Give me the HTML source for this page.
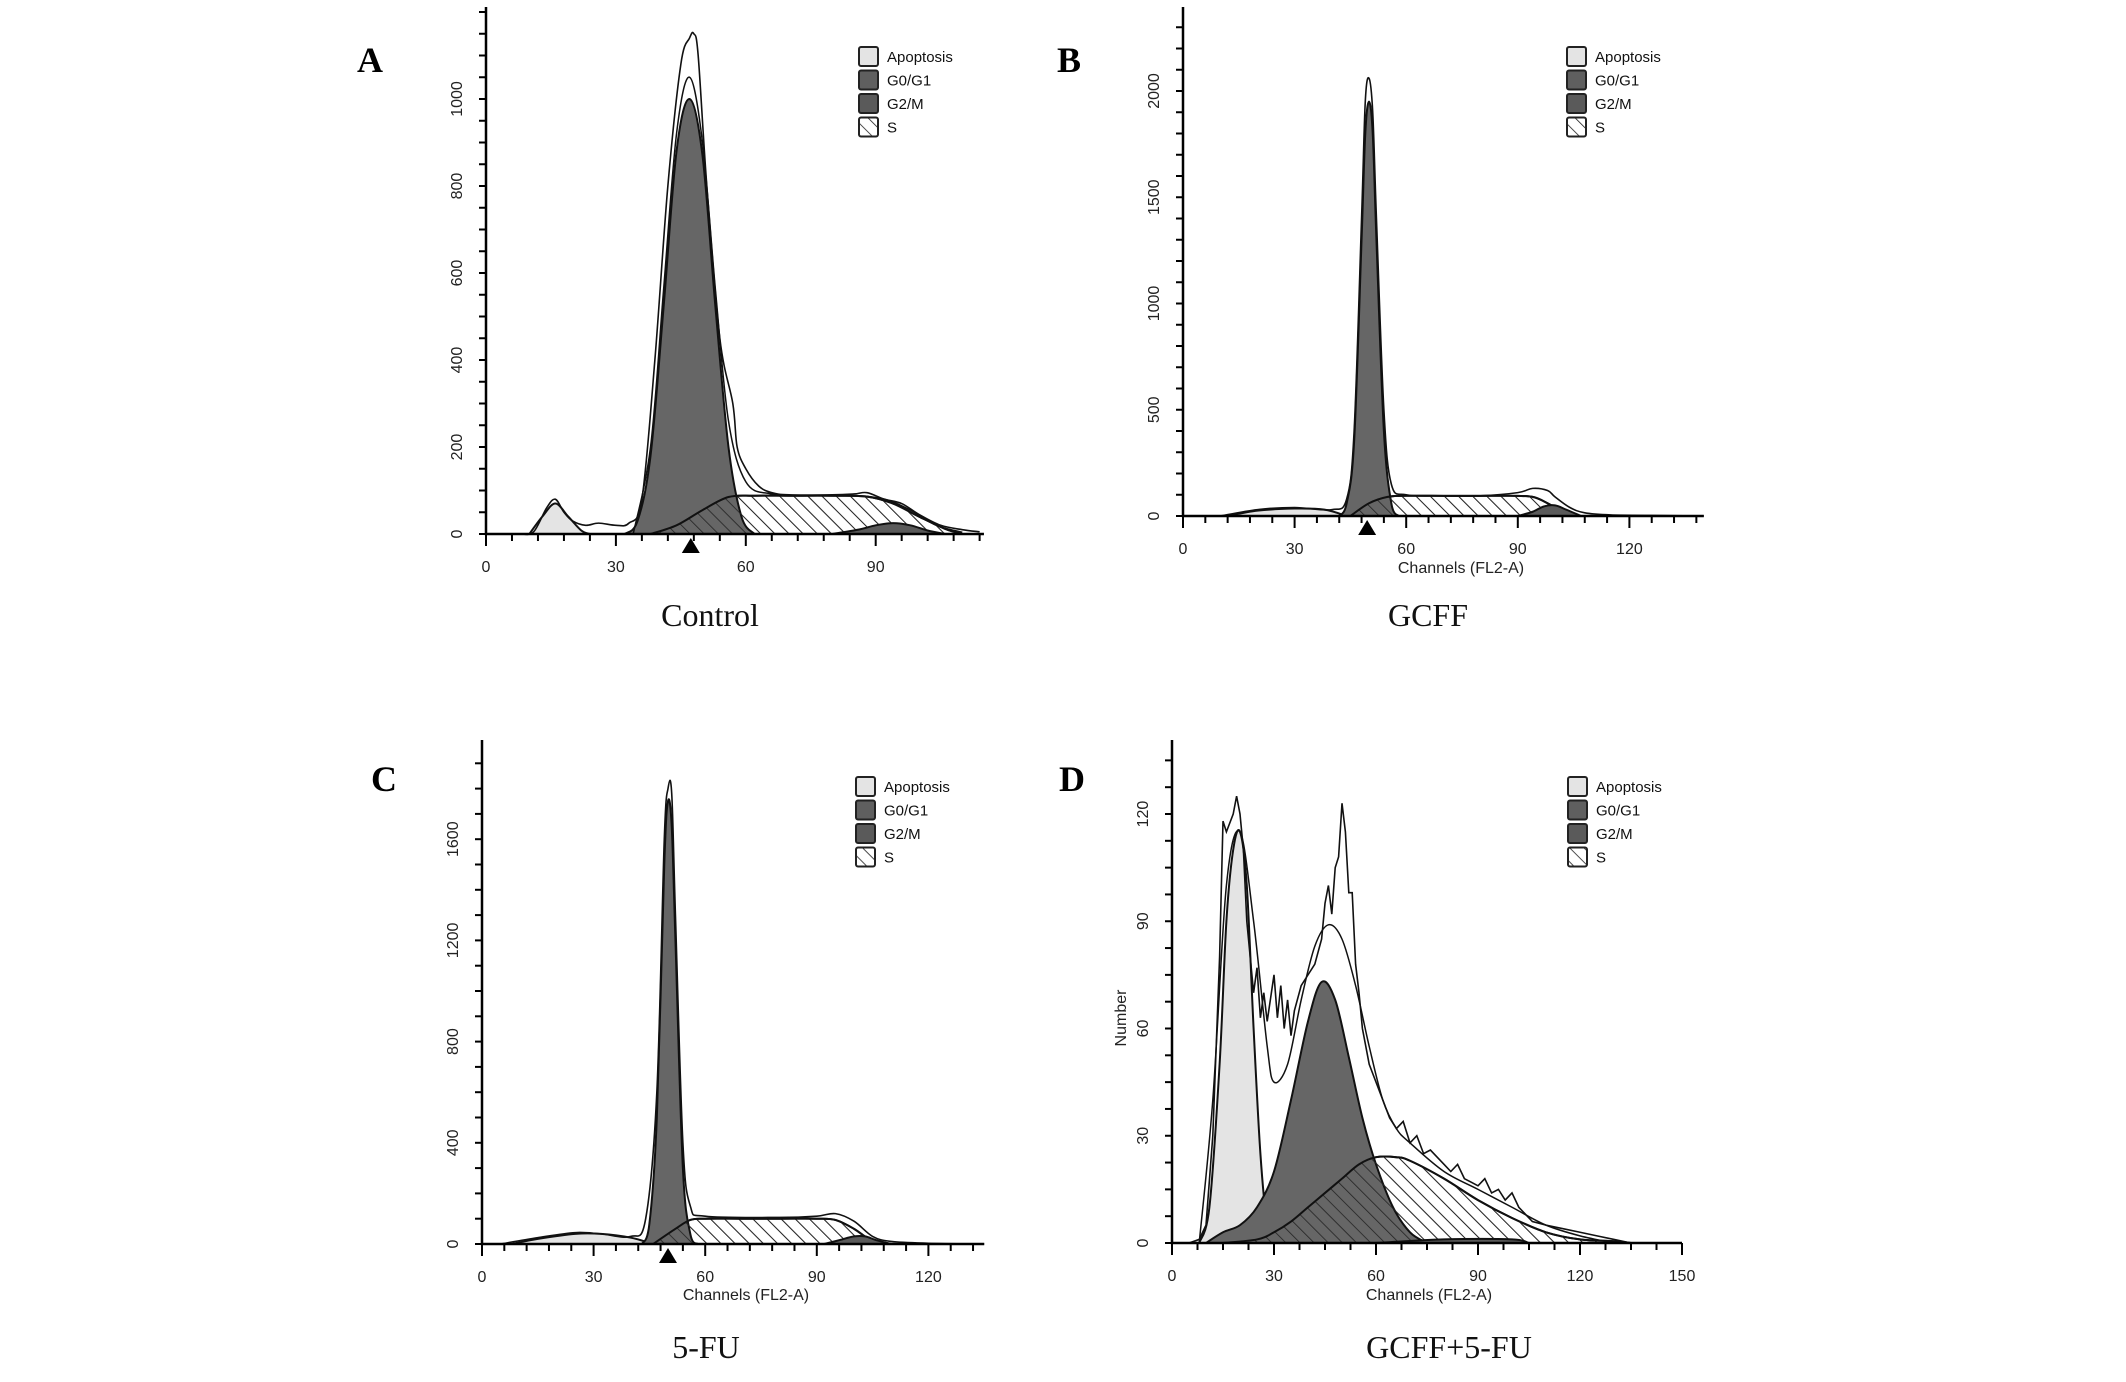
<!DOCTYPE html>
<html><head><meta charset="utf-8"><style>
html,body{margin:0;padding:0;background:#fff;}
svg{display:block;}
.tk{font-family:"Liberation Sans",sans-serif;font-size:16px;fill:#222;}
.lg{font-family:"Liberation Sans",sans-serif;font-size:15px;fill:#111;}
.cap{font-family:"Liberation Serif",serif;font-size:32px;fill:#111;}
.let{font-family:"Liberation Serif",serif;font-size:36px;font-weight:bold;fill:#000;}
</style></head><body>
<svg id="fig" width="2126" height="1382" viewBox="0 0 2126 1382" xmlns="http://www.w3.org/2000/svg">
<defs>
<pattern id="hatch" width="10" height="10" patternUnits="userSpaceOnUse" patternTransform="rotate(-45)">
<rect width="10" height="10" fill="#fff"/><line x1="0" y1="0" x2="0" y2="10" stroke="#222" stroke-width="1.6"/>
</pattern>
<pattern id="hatchT" width="10" height="10" patternUnits="userSpaceOnUse" patternTransform="rotate(-45)">
<line x1="0" y1="0" x2="0" y2="10" stroke="#222" stroke-width="1.6"/>
</pattern>
</defs>
</svg>
<script>
// Panel A (Control)
const apoAx=[10,13,16,19,22,24]; const apoAy=[0,40,70,40,8,0];
const g1Ax=[32,35,38,41,44,47,50,53,56,59,62]; const g1Ay=[0,30,180,520,880,1000,870,520,200,40,0];
const sAx=[38,44,50,56,62,70,80,88,94,100,106,110]; const sAy=[0,20,55,85,88,88,88,86,70,40,12,0];
const g2Ax=[80,86,90,94,98,102,106]; const g2Ay=[0,10,20,25,20,8,0];
const totAx=[8,11,14,16,18,20,23,26,30,33,36,39,42,45,47,48,49,51,54,57,58,60,63,66,70,80,85,88,92,96,100,105,110,114];
const totAy=[0,5,60,80,50,30,20,25,20,25,80,400,800,1080,1140,1150,1100,800,450,300,200,150,110,95,90,90,92,95,80,70,45,20,10,5];
const fitAx=[34,38,41,44,47,50,53,56,60,66,75,85,92,98,104,110];
const fitAy=[0,200,560,920,1050,900,560,260,120,92,88,88,80,55,20,4];
// Panel B (GCFF)
const apoBx=[12,20,30,38,44]; const apoBy=[0,25,35,30,0];
const g1Bx=[42,44,46,48,49,50,51,52,54,56,58]; const g1By=[0,60,350,1300,1800,1950,1800,1300,400,60,0];
const sBx=[45,50,55,60,70,80,88,94,98,102,106]; const sBy=[0,60,90,95,95,95,95,90,60,20,0];
const g2Bx=[90,94,97,100,103,107]; const g2By=[0,20,45,50,30,0];
const totBx=[10,20,30,40,44,46,48,49,50,51,52,54,56,60,70,80,90,94,98,100,104,108,115,125,140];
const totBy=[0,30,40,30,80,400,1400,1950,2060,1900,1400,500,150,100,95,95,110,130,120,90,40,15,5,3,0];
// Panel C (5-FU)
const apoCx=[8,15,25,32,40,46]; const apoCy=[0,20,40,40,25,0];
const g1Cx=[43,45,47,49,50,51,52,54,56,58]; const g1Cy=[0,80,500,1500,1750,1650,1200,300,40,0];
const sCx=[46,52,56,60,70,80,90,95,100,104,108]; const sCy=[0,60,95,100,100,100,100,95,60,20,0];
const g2Cx=[92,96,100,103,106,110]; const g2Cy=[0,15,30,30,15,0];
const totCx=[5,15,25,32,40,44,47,49,50,51,52,54,56,60,80,90,95,100,105,110,120,135];
const totCy=[0,25,45,40,30,100,600,1600,1800,1780,1300,400,150,110,105,110,120,90,30,10,3,0];
// Panel D (GCFF+5-FU)
const apoDx=[8,11,14,16,18,20,22,24,26,28,30]; const apoDy=[0,10,50,90,110,115,100,60,25,5,0];
const g1Dx=[10,15,20,25,30,35,40,44,48,52,56,60,65,70,75]; const g1Dy=[0,3,5,10,20,40,62,73,68,52,35,22,10,3,0];
const sDx=[15,25,30,35,40,45,50,55,60,66,70,80,90,100,110,120,130,135]; const sDy=[0,1,3,6,10,14,18,22,24,24,23,18,12,7,3,1,0.5,0];
const g2Dx=[60,80,100,105]; const g2Dy=[0,1,1,0];
const totDx=[5,8,10,12,14,15,16,18,19,20,21,22,24,25,26,27,28,30,31,32,33,34,35,36,38,40,42,44,45,46,47,48,49,50,51,52,53,54,55,56,57,58,60,62,64,66,68,70,72,74,76,78,80,82,84,86,88,90,92,94,96,98,100,102,104,106,110,115,120,125,130,135,136];
const totDy=[0,1,5,30,80,118,115,120,125,120,110,90,70,77,63,70,62,75,63,72,60,68,58,65,72,75,78,85,95,100,92,105,108,123,115,98,98,78,70,60,55,50,45,40,35,32,34,28,30,25,26,24,22,20,22,18,17,16,18,14,15,12,14,10,8,6,5,4,3,2,1,0];
const fitDx=[8,12,16,20,24,28,30,34,38,42,46,50,54,58,62,66,70,80,90,100,110,120,130];
const fitDy=[0,40,100,115,90,55,45,50,68,83,89,85,72,55,40,32,28,20,15,10,5,2,0];
const xTicksA=[0,30,60,90]; const yTicksA=[0,200,400,600,800,1000];
const xTicksB=[0,30,60,90,120]; const yTicksB=[0,500,1000,1500,2000];
const xTicksC=[0,30,60,90,120]; const yTicksC=[0,400,800,1200,1600];
const xTicksD=[0,30,60,90,120,150]; const yTicksD=[0,30,60,90,120];

const NS="http://www.w3.org/2000/svg";
const svg=document.getElementById('fig');
function mk(tag,attrs,parent){const e=document.createElementNS(NS,tag);for(const k in attrs)e.setAttribute(k,attrs[k]);(parent||svg).appendChild(e);return e;}
function smoothPath(pts){let d='M'+pts[0][0]+','+pts[0][1];for(let i=0;i<pts.length-1;i++){const p0=pts[Math.max(0,i-1)],p1=pts[i],p2=pts[i+1],p3=pts[Math.min(pts.length-1,i+2)];const c1x=p1[0]+(p2[0]-p0[0])/6,c1y=p1[1]+(p2[1]-p0[1])/6,c2x=p2[0]-(p3[0]-p1[0])/6,c2y=p2[1]-(p3[1]-p1[1])/6;d+=' C'+c1x+','+c1y+' '+c2x+','+c2y+' '+p2[0]+','+p2[1];}return d;}
function linePath(pts){return 'M'+pts.map(p=>p[0]+','+p[1]).join(' L');}

function panel(cfg){
  const g=mk('g',{});
  
  
  const sx=v=>cfg.x0+v*cfg.px, sy=v=>cfg.y0-v*cfg.py;
  const P=(xs,ys)=>xs.map((x,i)=>[sx(x),Math.min(cfg.y0,sy(ys[i]))]);
  function area(xs,ys,fill,name,stroke){const pts=P(xs,ys);const a=mk('path',{d:smoothPath(pts)+' L'+pts[pts.length-1][0]+','+cfg.y0+' L'+pts[0][0]+','+cfg.y0+' Z',fill:fill,stroke:stroke||'#111','stroke-width':2},g);}
  area(cfg.apo[0],cfg.apo[1],'#e4e4e4','apoptosis-area');
  area(cfg.s[0],cfg.s[1],'url(#hatch)','s-phase-area');
  area(cfg.g1[0],cfg.g1[1],'#666','g0g1-area');
  area(cfg.s[0],cfg.s[1],'url(#hatchT)','s-phase-overlay');
  area(cfg.g2[0],cfg.g2[1],'#5a5a5a','g2m-area');
  if(cfg.fit){const f=mk('path',{d:smoothPath(P(cfg.fit[0],cfg.fit[1])),fill:'none',stroke:'#111','stroke-width':1.5},g);}
  const tp=P(cfg.tot[0],cfg.tot[1]);
  const t=mk('path',{d:cfg.jag?linePath(tp):smoothPath(tp),fill:'none',stroke:'#111','stroke-width':1.6},g);
  
  
  const ax=mk('path',{d:'M'+cfg.x0+','+cfg.top+' L'+cfg.x0+','+cfg.y0+' L'+sx(cfg.xmax)+','+cfg.y0,fill:'none',stroke:'#000','stroke-width':2.5},g);
  
  
  for(let v=0;v<=cfg.xmax+0.01;v+=cfg.xminor){const big=cfg.xt.some(t=>Math.abs(t-v)<0.01);mk('line',{x1:sx(v),x2:sx(v),y1:cfg.y0,y2:cfg.y0+(big?12:7),stroke:'#000','stroke-width':2},g);}
  const ymax=(cfg.y0-cfg.top)/cfg.py;
  for(let v=0;v<=ymax;v+=cfg.yminor){mk('line',{x1:cfg.x0-7,x2:cfg.x0,y1:sy(v),y2:sy(v),stroke:'#000','stroke-width':2},g);}
  cfg.xt.forEach(v=>{const e=mk('text',{x:sx(v),y:cfg.y0+38,'text-anchor':'middle',class:'tk'},g);e.textContent=v;});
  cfg.yt.forEach(v=>{const e=mk('text',{x:cfg.x0-24,y:sy(v),'text-anchor':'middle',class:'tk',transform:'rotate(-90 '+(cfg.x0-24)+' '+sy(v)+')'},g);e.textContent=v;});
  if(cfg.tri!==undefined){const x=sx(cfg.tri);const m=mk('path',{d:'M'+(x-9)+','+(cfg.y0+19)+' L'+(x+9)+','+(cfg.y0+19)+' L'+x+','+(cfg.y0+4)+' Z',fill:'#000'},g);}
  if(cfg.chan){const e=mk('text',{x:cfg.chan[0],y:cfg.chan[1],'text-anchor':'middle',class:'tk'},g);e.textContent='Channels (FL2-A)';}
  if(cfg.num){const e=mk('text',{x:cfg.num[0],y:cfg.num[1],'text-anchor':'middle',class:'tk',transform:'rotate(-90 '+cfg.num[0]+' '+cfg.num[1]+')'},g);e.textContent='Number';}
  const c=mk('text',{x:cfg.cap[0],y:cfg.cap[1],'text-anchor':'middle',class:'cap'},g);c.textContent=cfg.capText;
  
  
  const L=mk('text',{x:cfg.let[0],y:cfg.let[1],'text-anchor':'middle',class:'let'},g);L.textContent=cfg.letter;
  
  
  const lg=mk('g',{},g);
  
  
  const labs=['Apoptosis','G0/G1','G2/M','S'], fills=['#e4e4e4','#5f5f5f','#5a5a5a','url(#hatch)'];
  labs.forEach((l,i)=>{const y=cfg.leg[1]+i*23.5;mk('rect',{x:cfg.leg[0],y:y-9,width:19,height:19,fill:fills[i],stroke:'#222','stroke-width':2,rx:2},lg);const e=mk('text',{x:cfg.leg[0]+28,y:y+6,class:'lg'},lg);e.textContent=l;});
}
panel({name:'panel-a-control',x0:486,y0:534,px:4.33,py:0.435,top:7,xmax:115,xminor:6,yminor:50,xt:xTicksA,yt:yTicksA,
 apo:[apoAx,apoAy],g1:[g1Ax,g1Ay],s:[sAx,sAy],g2:[g2Ax,g2Ay],tot:[totAx,totAy],fit:[fitAx,fitAy],tri:47.3,
 cap:[710,626],capText:'Control',let:[370,72],letter:'A',leg:[859,56]});
panel({name:'panel-b-gcff',x0:1183,y0:516,px:3.72,py:0.2125,top:7,xmax:140,xminor:6,yminor:100,xt:xTicksB,yt:yTicksB,
 apo:[apoBx,apoBy],g1:[g1Bx,g1By],s:[sBx,sBy],g2:[g2Bx,g2By],tot:[totBx,totBy],tri:49.5,chan:[1461,573],
 cap:[1428,626],capText:'GCFF',let:[1069,72],letter:'B',leg:[1567,56]});
panel({name:'panel-c-5fu',x0:482,y0:1244,px:3.72,py:0.253,top:740,xmax:135,xminor:6,yminor:100,xt:xTicksC,yt:yTicksC,
 apo:[apoCx,apoCy],g1:[g1Cx,g1Cy],s:[sCx,sCy],g2:[g2Cx,g2Cy],tot:[totCx,totCy],tri:50,chan:[746,1300],
 cap:[706,1358],capText:'5-FU',let:[384,791],letter:'C',leg:[856,786]});
panel({name:'panel-d-gcff-5fu',x0:1172,y0:1243,px:3.40,py:3.575,top:740,xmax:150,xminor:7.5,yminor:7.5,xt:xTicksD,yt:yTicksD,
 apo:[apoDx,apoDy],g1:[g1Dx,g1Dy],s:[sDx,sDy],g2:[g2Dx,g2Dy],tot:[totDx,totDy],fit:[fitDx,fitDy],jag:true,chan:[1429,1300],num:[1126,1018],
 cap:[1449,1358],capText:'GCFF+5-FU',let:[1072,791],letter:'D',leg:[1568,786]});
</script>
</body></html>
